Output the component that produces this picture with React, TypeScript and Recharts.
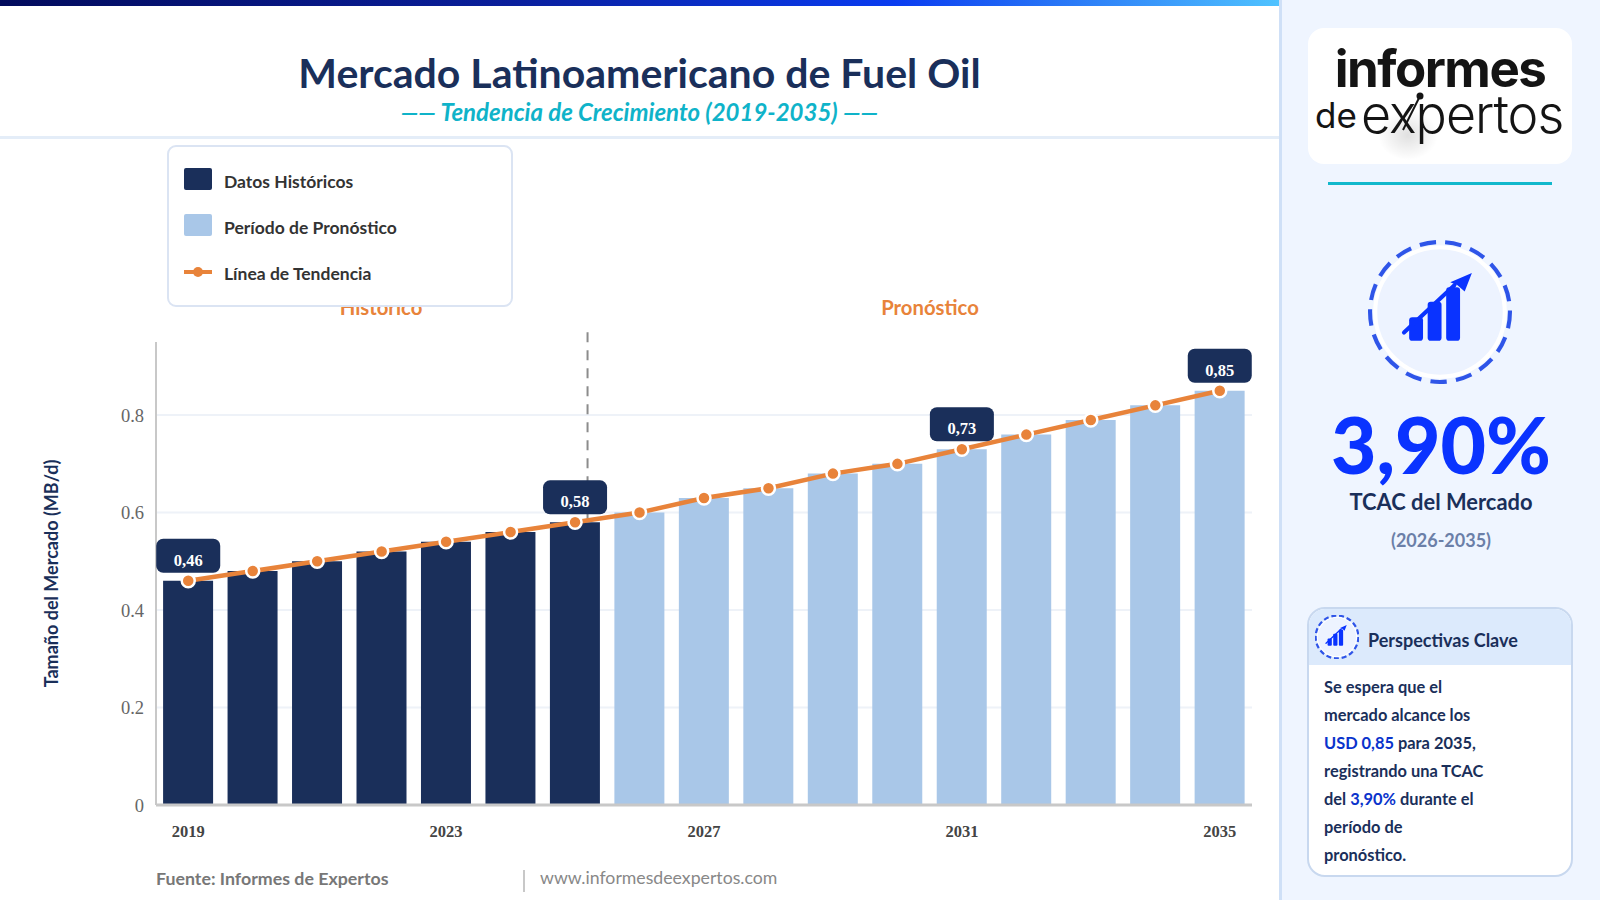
import { Bar, CartesianGrid, Cell, ComposedChart, LabelList, Line, ReferenceLine, XAxis, YAxis } from 'recharts';

const years = ['2019', '2020', '2021', '2022', '2023', '2024', '2025', '2026', '2027', '2028', '2029', '2030', '2031', '2032', '2033', '2034', '2035'];
const marketSize = [0.46, 0.48, 0.5, 0.52, 0.54, 0.56, 0.58, 0.6, 0.63, 0.65, 0.68, 0.7, 0.73, 0.76, 0.79, 0.82, 0.85];
const yTicks = [0, 0.2, 0.4, 0.6, 0.8];
const calloutYears = ['2019', '2025', '2031', '2035'];
const legendItems = ['Datos Históricos', 'Período de Pronóstico', 'Línea de Tendencia'];
const lastHistoricalYear = 2025;
const forecastBoundary = 6.3;
// the dashed line sits behind the 2025 bar in the original, so it stops at the bar top
const boundaryRange = [0.58, 0.975];

const NAVY = '#1a2f5a';
const LIGHT = '#a9c7e8';
const ORANGE = '#e8833a';
const BLUE = '#0a33ff';
const SANS = 'Lato, "Noto Sans", sans-serif';
const SERIF = '"Liberation Serif", serif';

const chartData = years.map((year, i) => ({ year, value: marketSize[i] }));

function Callout(props: any) {
  const { x, y, value, index } = props;
  if (!calloutYears.includes(years[index])) return null;
  return (
    <g>
      <rect x={x - 32} y={y - 42} width={64} height={34} rx={7} fill={NAVY} />
      <text x={x} y={y - 15} textAnchor="middle" fill="#fff" fontFamily={SERIF} fontWeight={700} fontSize={16.5}>
        {value.toFixed(2).replace('.', ',')}
      </text>
    </g>
  );
}

function TrendIcon({ size, ring }: { size: number; ring: number }) {
  return (
    <svg width={size} height={size} viewBox="0 0 140 140" style={{ display: 'block' }}>
      <circle cx="70" cy="70" r="63" fill="#edf3ff" stroke="#fff" strokeWidth="4" />
      <circle cx="70" cy="70" r="68" fill="none" stroke="#2f55e8" strokeWidth={ring} strokeDasharray="16 9" />
      <rect x="40" y="75" width="13.5" height="23" rx="3" fill={BLUE} />
      <rect x="58" y="60" width="13.5" height="38" rx="3" fill={BLUE} />
      <rect x="76" y="46" width="13.5" height="52" rx="3" fill={BLUE} />
      <path d="M35 90 L84 44" stroke={BLUE} strokeWidth="4" strokeLinecap="round" />
      <path d="M101 32 L94 50 L87 44 L80 41 Z" fill={BLUE} />
    </svg>
  );
}

export default function App() {
  return (
    <div style={{ position: 'absolute', left: 0, top: 0, width: 1600, height: 900, background: '#fff', overflow: 'hidden', fontFamily: SANS }}>
      <div style={{ position: 'absolute', left: 0, top: 0, width: 1279, height: 6, background: 'linear-gradient(90deg, #020b5c 0%, #0a1f9c 40%, #0a3cf0 70%, #4fc3ff 100%)' }} />
      <div style={{ position: 'absolute', left: 0, top: 136, width: 1279, height: 3, background: '#e4edf8' }} />

      <div style={{ position: 'absolute', left: 0, top: 46, width: 1279, textAlign: 'center', fontSize: 41, lineHeight: '54px', fontWeight: 700, color: NAVY }}>
        Mercado Latinoamericano de Fuel Oil
      </div>
      <div style={{ position: 'absolute', left: 0, top: 97, width: 1279, textAlign: 'center', fontSize: 24, lineHeight: '30px', fontWeight: 700, fontStyle: 'italic', color: '#0fb3c9' }}>
        —— Tendencia de Crecimiento (2019-2035) ——
      </div>

      <div style={{ position: 'absolute', left: 0, top: 0 }}>
        <ComposedChart width={1279} height={900} data={chartData} margin={{ top: 342, right: 27, bottom: 65, left: 30 }} barCategoryGap="11%">
          <CartesianGrid vertical={false} horizontalValues={yTicks} stroke="#eef2f8" strokeWidth={2} />
          <XAxis dataKey="year" interval={3} height={30} tickLine={false} axisLine={{ stroke: '#c8c8c8', strokeWidth: 3 }} tickMargin={14} tick={{ fontFamily: SERIF, fontWeight: 700, fontSize: 16.5, fill: '#444' }} />
          <XAxis xAxisId="position" type="number" domain={[0, years.length]} allowDataOverflow hide />
          <YAxis
            width={126}
            domain={[0, 0.95]}
            ticks={yTicks}
            tickLine={false}
            axisLine={{ stroke: '#c8c8c8', strokeWidth: 2 }}
            tickMargin={6}
            tick={{ fontFamily: SERIF, fontSize: 18.5, fill: '#666' }}
            label={{ value: 'Tamaño del Mercado (MB/d)', angle: -90, position: 'insideLeft', offset: 22, style: { textAnchor: 'middle', fontFamily: SANS, fontWeight: 700, fontSize: 18, fill: NAVY } }}
          />
          <ReferenceLine
            xAxisId="position"
            segment={[{ x: forecastBoundary, y: boundaryRange[0] }, { x: forecastBoundary, y: boundaryRange[1] }]}
            ifOverflow="visible"
            stroke="#8c8c8c"
            strokeWidth={2}
            strokeDasharray="10 8"
          />
          <Bar dataKey="value" isAnimationActive={false}>
            {chartData.map((d) => (
              <Cell key={d.year} fill={Number(d.year) <= lastHistoricalYear ? NAVY : LIGHT} />
            ))}
          </Bar>
          <Line
            dataKey="value"
            type="linear"
            stroke={ORANGE}
            strokeWidth={4.5}
            dot={{ r: 6.5, fill: ORANGE, stroke: '#fff', strokeWidth: 2.5 }}
            activeDot={false}
            isAnimationActive={false}
          >
            <LabelList dataKey="value" content={Callout} />
          </Line>
        </ComposedChart>
      </div>

      <div style={{ position: 'absolute', left: 281, top: 294, width: 200, textAlign: 'center', fontSize: 20.3, lineHeight: '26px', fontWeight: 700, color: ORANGE }}>Histórico</div>
      <div style={{ position: 'absolute', left: 830, top: 294, width: 200, textAlign: 'center', fontSize: 20.3, lineHeight: '26px', fontWeight: 700, color: ORANGE }}>Pronóstico</div>

      <div style={{ position: 'absolute', left: 167, top: 145, width: 342, height: 158, background: '#fff', border: '2px solid #dbe4f3', borderRadius: 9 }}>
        {legendItems.map((item, i) => (
          <div key={item} style={{ position: 'absolute', left: 55, top: 23 + i * 46, fontSize: 17.5, lineHeight: '24px', fontWeight: 700, color: '#333', whiteSpace: 'nowrap' }}>
            {item}
          </div>
        ))}
        <div style={{ position: 'absolute', left: 15, top: 21, width: 28, height: 22, borderRadius: 2, background: NAVY }} />
        <div style={{ position: 'absolute', left: 15, top: 67, width: 28, height: 22, borderRadius: 2, background: LIGHT }} />
        <div style={{ position: 'absolute', left: 15, top: 123, width: 28, height: 4, background: ORANGE }} />
        <div style={{ position: 'absolute', left: 24, top: 120, width: 10, height: 10, borderRadius: 5, background: ORANGE }} />
      </div>

      <div style={{ position: 'absolute', left: 156, top: 866, fontSize: 17.8, lineHeight: '24px', fontWeight: 700, color: '#777' }}>Fuente: Informes de Expertos</div>
      <div style={{ position: 'absolute', left: 523, top: 870, width: 2, height: 22, background: '#c8c8c8' }} />
      <div style={{ position: 'absolute', left: 540, top: 866, fontSize: 17.7, lineHeight: '24px', color: '#888' }}>www.informesdeexpertos.com</div>

      <div style={{ position: 'absolute', left: 1279, top: 0, width: 321, height: 900, background: '#eff5ff', borderLeft: '3px solid #cfe0f7', boxSizing: 'border-box' }} />

      <div style={{ position: 'absolute', left: 1308, top: 28, width: 264, height: 136, background: '#fff', borderRadius: 16, overflow: 'hidden' }}>
        <div style={{ position: 'absolute', left: 70, top: 82, width: 60, height: 50, borderRadius: 30, background: 'radial-gradient(closest-side, rgba(0,0,0,0.12), rgba(0,0,0,0))' }} />
        <div style={{ position: 'absolute', left: 0, top: 6, width: 264, textAlign: 'center', fontFamily: 'Inter, sans-serif', fontWeight: 700, fontSize: 51, lineHeight: '70px', letterSpacing: -1.5, color: '#141414' }}>informes</div>
        <div style={{ position: 'absolute', left: 7, top: 62, fontFamily: 'Inter, sans-serif', fontWeight: 400, fontSize: 35, lineHeight: '50px', color: '#141414' }}>de</div>
        <div style={{ position: 'absolute', left: 53, top: 52, fontFamily: 'Inter, sans-serif', fontWeight: 300, fontSize: 52, lineHeight: '70px', letterSpacing: -1, color: '#141414' }}>expertos</div>
        <svg width={264} height={136} style={{ position: 'absolute', left: 0, top: 0 }}>
          <path d="M95 102 L112 68" stroke="#141414" strokeWidth="2" />
          <circle cx={112} cy={68} r={3.5} fill="#141414" />
        </svg>
      </div>
      <div style={{ position: 'absolute', left: 1328, top: 182, width: 224, height: 3, background: '#12b8cc' }} />

      <div style={{ position: 'absolute', left: 1368, top: 240 }}>
        <TrendIcon size={144} ring={4} />
      </div>

      <div style={{ position: 'absolute', left: 1282, top: 394, width: 318, textAlign: 'center', fontSize: 78.5, lineHeight: '100px', fontWeight: 900, color: BLUE }}>3,90%</div>
      <div style={{ position: 'absolute', left: 1282, top: 488, width: 318, textAlign: 'center', fontSize: 21.9, lineHeight: '28px', fontWeight: 700, color: NAVY }}>TCAC del Mercado</div>
      <div style={{ position: 'absolute', left: 1282, top: 527, width: 318, textAlign: 'center', fontSize: 18, lineHeight: '26px', fontWeight: 700, color: '#6b7fa8' }}>(2026-2035)</div>

      <div style={{ position: 'absolute', left: 1307, top: 607, width: 266, height: 270, boxSizing: 'border-box', background: '#fff', border: '2px solid #c8d8ef', borderRadius: 18, overflow: 'hidden' }}>
        <div style={{ position: 'absolute', left: 0, top: 0, width: 262, height: 56, background: '#dceafc' }} />
        <div style={{ position: 'absolute', left: 6, top: 6 }}>
          <TrendIcon size={44} ring={7} />
        </div>
        <div style={{ position: 'absolute', left: 59, top: 18, fontSize: 18, lineHeight: '26px', fontWeight: 700, color: NAVY }}>Perspectivas Clave</div>
        <div style={{ position: 'absolute', left: 15, top: 64, width: 240, fontSize: 16.4, lineHeight: '28px', fontWeight: 700, color: NAVY, whiteSpace: 'nowrap' }}>
          <div>Se espera que el</div>
          <div>mercado alcance los</div>
          <div><span style={{ color: '#0a33cc' }}>USD 0,85</span> para 2035,</div>
          <div>registrando una TCAC</div>
          <div>del <span style={{ color: '#0a33cc' }}>3,90%</span> durante el</div>
          <div>período de</div>
          <div>pronóstico.</div>
        </div>
      </div>
    </div>
  );
}
